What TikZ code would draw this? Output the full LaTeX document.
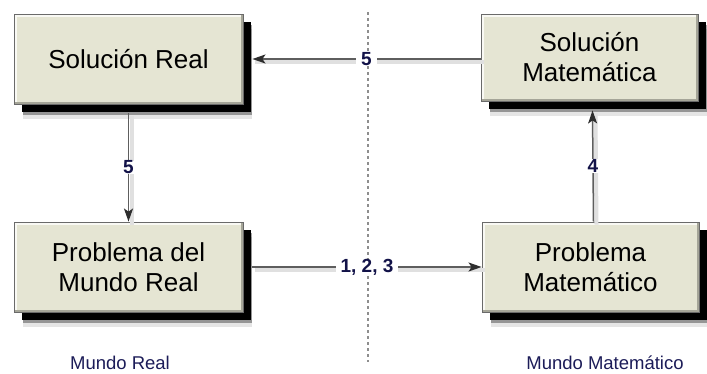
\documentclass[tikz,border=0pt]{standalone}
\usepackage{fontspec}
\setmainfont{Liberation Sans}
\usetikzlibrary{arrows.meta,calc}

\definecolor{boxfill}{HTML}{E5E5D3}
\definecolor{boxedge}{HTML}{6A6A6A}
\definecolor{linegray}{HTML}{5E5E5E}
\definecolor{tipdark}{HTML}{2E2E2E}
\definecolor{navy}{HTML}{1C1C58}
\definecolor{numblue}{HTML}{121248}
\definecolor{dotgray}{HTML}{8E8E8E}

\tikzset{
  box/.style={
    draw=boxedge, line width=0.9pt, fill=boxfill, align=center,
    inner sep=0pt, text=black,
    font=\fontsize{26}{30}\selectfont,
    % soft haze under the shadow, then the solid black shadow
    preaction={draw=none, fill=black, fill opacity=0.10,
      transform canvas={shift={(9pt,-15pt)}}},
    preaction={draw=none, fill=black, fill opacity=0.35,
      transform canvas={shift={(9pt,-11pt)}}},
    preaction={draw=none, fill=black,
      transform canvas={shift={(8pt,-8pt)}}},
    path picture={
      \draw[white!75!boxfill, line width=3pt]
        ([shift={(1.2pt,1.2pt)}]path picture bounding box.south west)
        |- ([shift={(-1.2pt,-1.2pt)}]path picture bounding box.north east);
      \draw[boxfill!72!black, line width=2.4pt]
        ([shift={(1.2pt,1.2pt)}]path picture bounding box.south west)
        -| ([shift={(-1.2pt,-1.2pt)}]path picture bounding box.north east);
    }
  },
  conn/.style={
    draw=linegray, line width=1.5pt,
    -{Stealth[length=13pt,width=9pt,inset=3pt,color=tipdark]},
    preaction={-, draw=black!12, line width=4pt,
      transform canvas={shift={(3pt,-3pt)}}}
  },
  num/.style={
    fill=white, text=numblue, inner xsep=5pt, inner ysep=0pt,
    font=\bfseries\fontsize{19}{19}\selectfont
  },
  world/.style={text=navy, font=\fontsize{18.5}{20}\selectfont, inner sep=0pt}
}

\begin{document}
\begin{tikzpicture}[x=1pt,y=-1pt]
  \useasboundingbox[fill=white] (0,0) rectangle (707,373);

  % divider between the two worlds
  \draw[dotgray, line width=2.6pt, dash pattern=on 2.6pt off 3.4pt]
    (368,12) -- (368,362);

  % the four stages
  \node[box, minimum width=229pt, minimum height=90pt] (sr) at (128.5,59)
    {Solución Real};
  \node[box, minimum width=217pt, minimum height=87pt] (sm) at (589.5,57.5)
    {Solución\\Matemática};
  \node[box, minimum width=229pt, minimum height=90pt] (pr) at (128.5,267)
    {Problema del\\Mundo Real};
  \node[box, minimum width=217pt, minimum height=90pt] (pm) at (590.5,267)
    {Problema\\Matemático};

  % transitions
  \draw[conn] (sm.west |- sr.east) -- node[num] {5} ([xshift=9pt]sr.east);
  \draw[conn] ([yshift=-9pt]sr.south) -- node[num] {5} (sr.south |- pr.north);
  \draw[conn] ([xshift=9pt]pr.east) -- node[num] {1, 2, 3} (pm.west |- pr.east);
  \draw[conn] ([xshift=3pt]pm.north) -- node[num] {4} ([xshift=3pt,yshift=-9pt]sm.south);

  % world captions
  \node[world] (wr) at (120,363) {Mundo Real};
  \node[world] (wm) at (605,363) {Mundo Matemático};
\end{tikzpicture}
\end{document}
